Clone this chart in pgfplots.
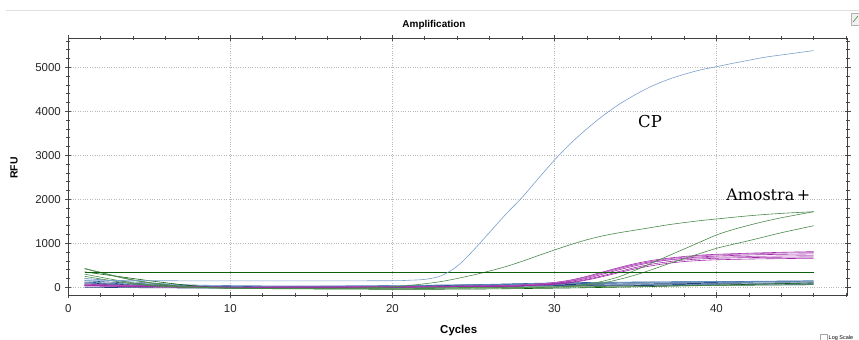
\documentclass[border=0pt]{standalone}
\usepackage{pgfplots}
\pgfplotsset{compat=1.18}
\usepackage{fontspec}
\newfontfamily\sansf{Liberation Sans}
\newfontfamily\slabf{DejaVu Serif}
\definecolor{cpblue}{HTML}{7A9FCC}
\definecolor{gmid}{HTML}{4A8A4A}
\definecolor{gdark}{HTML}{0D5E0D}
\definecolor{purp}{HTML}{A02AA8}
\definecolor{purpl}{HTML}{B85CC0}
\definecolor{bdark}{HTML}{2B5C96}
\definecolor{blight}{HTML}{5A88BE}
\definecolor{navy}{HTML}{1E3F78}
\begin{document}
\begin{tikzpicture}
\useasboundingbox (0,0) rectangle (859bp,-340bp);
\draw[gray!25, line width=0.8bp] (6bp,-10bp) -- (859bp,-10bp);
\draw[gray!60, fill=gray!12] (851.5bp,-13bp) rectangle (860bp,-25bp);
\draw[gmid, line width=0.6bp] (853bp,-22bp) -- (858bp,-16bp);
\node[font=\sansf\bfseries\fontsize{10}{12}\selectfont] at (434bp,-25bp) {Amplification};
\node[font=\sansf\bfseries\fontsize{11.5}{13}\selectfont] at (458.7bp,-330.5bp) {Cycles};
\node[font=\sansf\bfseries\fontsize{10.5}{12}\selectfont, rotate=90] at (14bp,-168bp) {RFU};
\draw[gray!70, line width=0.5bp] (820.7bp,-334bp) rectangle (827bp,-340.5bp);
\node[font=\sansf\fontsize{5.5}{6}\selectfont, anchor=west, inner sep=0pt] at (828.5bp,-338bp) {Log Scale};
\begin{axis}[
  at={(68.3bp,-38bp)}, anchor=north west,
  scale only axis, width=779.4bp, height=257bp,
  xmin=0, xmax=48.1, ymin=-175, ymax=5666,
  xtick={0,10,20,30,40}, ytick={0,1000,2000,3000,4000,5000},
  minor xtick={2,4,...,48},
  minor ytick={-200,200,400,600,800,1200,1400,1600,1800,2200,2400,2600,2800,3200,3400,3600,3800,4200,4400,4600,4800,5200,5400,5600},
  tick align=center,
  major tick length=6bp, minor tick length=4bp,
  every tick/.style={black!70, line width=0.6bp},
  axis line style={black!75, line width=0.9bp},
  grid=major,
  major grid style={dotted, gray!55, line width=0.6bp},
  /pgf/number format/assume math mode=true,
  /pgf/number format/1000 sep={},
  ticklabel style={font=\sansf\fontsize{11.5}{13}\selectfont, text=black!85},
  xticklabel style={yshift=-3bp},
  yticklabel style={xshift=-1bp},
  clip=true,
  every axis plot/.append style={no marks, line width=0.6bp},
]
% baselines (blue)
\addplot[bdark, smooth, tension=0.4] coordinates {(1,150)(3,110)(6,60)(10,20)(20,30)(25,60)(30,100)(35,120)(40,130)(46,140)};
\addplot[bdark, smooth, tension=0.4] coordinates {(1,120)(4,70)(8,20)(15,0)(20,20)(30,80)(40,110)(46,125)};
\addplot[navy, smooth, tension=0.4] coordinates {(1,100)(5,40)(10,0)(20,10)(30,60)(40,90)(46,100)};
\addplot[bdark, smooth, tension=0.4] coordinates {(1,80)(6,20)(10,-10)(20,0)(30,40)(40,70)(46,80)};
\addplot[blight, smooth, tension=0.4] coordinates {(1,200)(4,120)(8,50)(15,30)(25,60)(35,110)(46,150)};
\addplot[navy, smooth, tension=0.4] coordinates {(1,0)(10,-20)(20,0)(30,30)(46,60)};
% green baselines
\addplot[gdark, smooth, tension=0.4] coordinates {(1,350)(3,250)(5,150)(7,60)(9,0)(12,-30)(20,-45)(25,-40)(30,-20)(35,10)(40,50)(46,100)};
\addplot[gmid, smooth, tension=0.4] coordinates {(1,430)(2,340)(3,250)(4,170)(5,110)(6,60)(7,25)(8,0)(12,-20)(20,-15)(30,10)(40,40)(46,60)};
% purple
\addplot[purp, smooth, tension=0.5] coordinates {(1,70)(3,50)(6,25)(10,5)(20,15)(27,40)(28,55)(29,75)(30,110)(31,165)(32,250)(33,350)(34,450)(35,540)(36,610)(37,660)(38,700)(39,730)(40,750)(42,775)(44,795)(46,810)};
\addplot[purpl, smooth, tension=0.5] coordinates {(1,50)(3,35)(6,15)(10,0)(20,10)(27,30)(28,45)(29,65)(30,95)(31,145)(32,225)(33,325)(34,425)(35,515)(36,590)(37,645)(38,685)(39,715)(40,735)(42,760)(44,778)(46,790)};
\addplot[purp, smooth, tension=0.5] coordinates {(1,40)(6,10)(10,-5)(20,5)(27,25)(28,40)(29,60)(30,90)(31,135)(32,205)(33,300)(34,400)(35,490)(36,565)(37,620)(38,660)(39,690)(40,710)(42,735)(44,750)(46,760)};
\addplot[purpl, smooth, tension=0.5] coordinates {(1,60)(6,20)(10,0)(20,10)(27,35)(28,50)(29,70)(30,105)(31,160)(32,240)(33,340)(34,440)(35,520)(36,580)(37,620)(38,650)(39,670)(40,685)(42,700)(44,712)(46,720)};
\addplot[purp, smooth, tension=0.5] coordinates {(1,30)(6,5)(10,-5)(20,5)(27,25)(28,35)(29,50)(30,75)(31,115)(32,180)(33,265)(34,360)(35,450)(36,525)(37,580)(38,620)(39,645)(40,660)(42,675)(44,684)(46,690)};
\addplot[purp, smooth, tension=0.5] coordinates {(1,45)(6,10)(10,0)(20,5)(27,25)(28,35)(29,50)(30,70)(31,105)(32,165)(33,245)(34,335)(35,420)(36,490)(37,545)(38,585)(39,610)(40,625)(42,642)(44,652)(46,660)};
% green risers
\addplot[gmid, smooth, tension=0.5] coordinates {(1,420)(2,330)(3,240)(4,160)(5,100)(6,50)(7,20)(8,0)(10,-20)(15,-25)(18,-15)(20,10)(21,40)(22,80)(23,130)(24,200)(25,280)(26,370)(27,470)(28,590)(29,720)(30,848)(31,970)(32,1080)(33,1170)(34,1240)(35,1300)(36,1360)(37,1420)(38,1470)(39,1515)(40,1552)(41,1590)(42,1625)(43,1655)(44,1680)(45,1700)(46,1718)};
\addplot[gmid, smooth, tension=0.5] coordinates {(1,300)(2,230)(3,160)(4,100)(5,60)(6,30)(8,0)(12,-20)(20,-20)(25,-10)(30,10)(31,30)(32,70)(33,140)(34,241)(35,390)(36,550)(37,710)(38,870)(39,1030)(40,1189)(41,1310)(42,1410)(43,1500)(44,1580)(45,1650)(46,1718)};
\addplot[gmid, smooth, tension=0.5] coordinates {(1,250)(2,190)(3,130)(4,80)(5,40)(6,15)(8,-10)(12,-30)(20,-30)(25,-20)(30,0)(31,20)(32,50)(33,100)(34,180)(35,280)(36,400)(37,530)(38,650)(39,770)(40,886)(41,975)(42,1060)(43,1150)(44,1240)(45,1320)(46,1400)};
% threshold
\addplot[gdark, line width=1.1bp] coordinates {(1,345)(46,345)};
% CP
\addplot[cpblue, smooth, tension=0.5] coordinates {(1,160)(5,150)(10,145)(15,145)(20,150)(21,160)(22,180)(23,260)(24,480)(25,840)(26,1250)(27,1660)(28,2040)(29,2470)(30,2890)(31,3270)(32,3600)(33,3900)(34,4160)(35,4380)(36,4570)(37,4720)(38,4840)(39,4940)(40,5014)(41,5090)(42,5160)(43,5230)(44,5280)(45,5330)(46,5380)};
\node[font=\slabf\fontsize{16.5}{19}\selectfont] at (axis cs:35.9,3764) {CP};
\node[font=\slabf\fontsize{16}{19}\selectfont] at (axis cs:43.2,2091) {Amostra\,+};
\end{axis}
\end{tikzpicture}
\end{document}
